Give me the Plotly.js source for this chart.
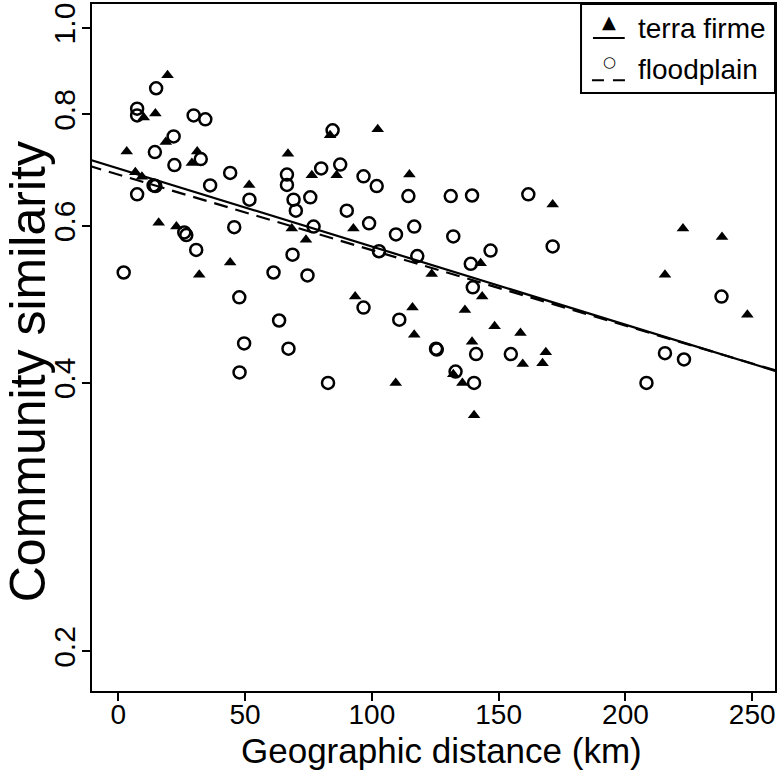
<!DOCTYPE html>
<html>
<head>
<meta charset="utf-8">
<script src="https://cdn.plot.ly/plotly-3.0.1.min.js"></script>
<style>
  html, body { margin: 0; padding: 0; background: #fff; }
  #chart { width: 782px; height: 771px; }
</style>
</head>
<body>
<div id="chart"></div>
<script>
// distances (km) and similarities
const terraX = [19.4, 14.6, 10.0, 18.7, 3.3, 31.1, 29.0, 6.7, 9.3, 15.9, 22.9, 31.9, 44.1, 51.6, 66.9,
  76.3, 83.5, 86.1, 68.4, 74.0, 102.3, 114.8, 171.3, 92.7, 142.9, 123.6, 143.5, 93.4, 116.0, 136.7,
  148.4, 158.6, 116.7, 139.5, 168.6, 159.5, 167.3, 109.4, 132.1, 135.7, 140.3, 222.7, 238.1, 215.6, 248.1];
const terraY = [0.885, 0.802, 0.794, 0.745, 0.727, 0.727, 0.706, 0.689, 0.681, 0.605, 0.599, 0.529, 0.546, 0.667, 0.723,
  0.684, 0.758, 0.684, 0.596, 0.579, 0.770, 0.685, 0.634, 0.596, 0.545, 0.530, 0.500, 0.500, 0.486, 0.483,
  0.463, 0.455, 0.453, 0.445, 0.433, 0.420, 0.421, 0.400, 0.409, 0.400, 0.368, 0.596, 0.583, 0.529, 0.477];

const floodX = [14.9, 7.4, 7.4, 29.7, 34.3, 21.8, 14.4, 32.5, 22.1, 44.1, 13.9, 14.6, 36.2, 7.4, 51.7,
  26.0, 26.8, 30.7, 45.7, 2.1, 61.2, 47.7, 63.4, 49.6, 47.8, 66.5, 66.5, 69.1, 75.7, 70.0,
  80.0, 87.5, 84.5, 90.1, 77.0, 68.7, 74.6, 67.1, 82.7, 96.7, 101.9, 114.4, 131.1, 139.5, 161.7,
  98.9, 109.5, 116.7, 132.1, 146.8, 171.3, 102.8, 117.9, 139.0, 139.8, 96.7, 110.8, 125.3, 125.6, 141.1,
  154.8, 133.0, 140.3, 237.9, 215.6, 223.1, 208.3];
const floodY = [0.856, 0.812, 0.798, 0.798, 0.790, 0.756, 0.726, 0.713, 0.702, 0.688, 0.666, 0.665, 0.666, 0.651, 0.642,
  0.590, 0.586, 0.564, 0.598, 0.532, 0.532, 0.499, 0.470, 0.443, 0.411, 0.685, 0.667, 0.642, 0.646, 0.624,
  0.696, 0.703, 0.768, 0.624, 0.599, 0.557, 0.528, 0.437, 0.400, 0.682, 0.665, 0.648, 0.648, 0.649, 0.651,
  0.604, 0.587, 0.599, 0.584, 0.563, 0.569, 0.562, 0.555, 0.544, 0.512, 0.486, 0.471, 0.437, 0.436, 0.431,
  0.431, 0.412, 0.400, 0.500, 0.432, 0.425, 0.400];

// fitted lines: y = intercept * 10^(slope * x)
const terraFit = { intercept: 0.696, slope: -0.000876 };
const floodFit = { intercept: 0.685, slope: -0.000847 };

const xRange = [-10.4, 259];
const yTicks = [0.2, 0.4, 0.6, 0.8, 1.0];
const yTickText = ['0.2', '0.4', '0.6', '0.8', '1.0'];
const xTicks = [0, 50, 100, 150, 200, 250];

const fitLine = (fit) => {
  const xs = [xRange[0] - 10, xRange[1] + 10];
  return { x: xs, y: xs.map(x => fit.intercept * Math.pow(10, fit.slope * x)) };
};

const font = 'Liberation Sans, Arial, sans-serif';

const traces = [
  {
    x: terraX, y: terraY, type: 'scatter', mode: 'markers', name: 'terra firme',
    marker: { symbol: 'triangle-up', size: 11, color: '#000' }
  },
  {
    x: floodX, y: floodY, type: 'scatter', mode: 'markers', name: 'floodplain',
    marker: { symbol: 'circle-open', size: 12, color: '#000', line: { width: 2.5, color: '#000' } }
  },
  Object.assign(fitLine(terraFit), {
    type: 'scatter', mode: 'lines', line: { color: '#000', width: 2.2 }
  }),
  Object.assign(fitLine(floodFit), {
    type: 'scatter', mode: 'lines', line: { color: '#000', width: 2.2, dash: '14px,8px' }
  })
];

const layout = {
  width: 782,
  height: 771,
  margin: { l: 92, r: 7, t: 4, b: 80 },
  paper_bgcolor: '#fff',
  plot_bgcolor: '#fff',
  showlegend: false,
  font: { family: font, color: '#000' },
  xaxis: {
    range: xRange,
    tickvals: xTicks,
    ticks: 'outside', ticklen: 8, tickwidth: 2, tickcolor: '#000',
    tickfont: { size: 28, family: font },
    ticklabelstandoff: -11,
    showline: true, mirror: true, linewidth: 2, linecolor: '#000',
    showgrid: false, zeroline: false
  },
  yaxis: {
    type: 'log',
    range: [Math.log10(0.1806), Math.log10(1.064)],
    tickvals: yTicks, ticktext: yTickText, tickangle: -90,
    ticks: 'outside', ticklen: 8, tickwidth: 2, tickcolor: '#000',
    tickfont: { size: 30, family: font },
    ticklabelstandoff: -5,
    showline: true, mirror: true, linewidth: 2, linecolor: '#000',
    showgrid: false, zeroline: false
  },
  shapes: [
    { type: 'rect', xref: 'paper', yref: 'paper', x0: 0.716, x1: 1, y0: 0.8705, y1: 1,
      line: { color: '#000', width: 2 }, fillcolor: '#fff', layer: 'above' },
    { type: 'line', xref: 'paper', yref: 'paper', x0: 0.7335, x1: 0.780, y0: 0.9505, y1: 0.9505,
      line: { color: '#000', width: 2.2 } },
    { type: 'line', xref: 'paper', yref: 'paper', x0: 0.732, x1: 0.783, y0: 0.889, y1: 0.889,
      line: { color: '#000', width: 2.2, dash: '12px,9px' } }
  ],
  annotations: [
    // axis titles
    { xref: 'paper', yref: 'paper', x: 0.511, y: -0.0865, text: 'Geographic distance (km)', showarrow: false,
      font: { size: 35, family: font }, xanchor: 'center', yanchor: 'middle', borderpad: 0 },
    { xref: 'paper', yref: 'paper', x: -0.0937, y: 0.464, text: 'Community similarity', showarrow: false,
      textangle: -90, font: { size: 50, family: font }, xanchor: 'center', yanchor: 'middle' },
    // legend
    { xref: 'paper', yref: 'paper', x: 0.757, y: 0.975, text: '▲', showarrow: false,
      font: { size: 18, family: 'DejaVu Sans' }, xanchor: 'center', yanchor: 'middle' },
    { xref: 'paper', yref: 'paper', x: 0.757, y: 0.9156, text: '○', showarrow: false,
      font: { size: 15, family: 'DejaVu Sans' }, xanchor: 'center', yanchor: 'middle' },
    { xref: 'paper', yref: 'paper', x: 0.7965, y: 0.965, text: 'terra firme', showarrow: false,
      font: { size: 28, family: font }, xanchor: 'left', yanchor: 'middle' },
    { xref: 'paper', yref: 'paper', x: 0.7965, y: 0.904, text: 'floodplain', showarrow: false,
      font: { size: 28, family: font }, xanchor: 'left', yanchor: 'middle' }
  ]
};

Plotly.newPlot('chart', traces, layout, { displayModeBar: false, staticPlot: true });
</script>
</body>
</html>
